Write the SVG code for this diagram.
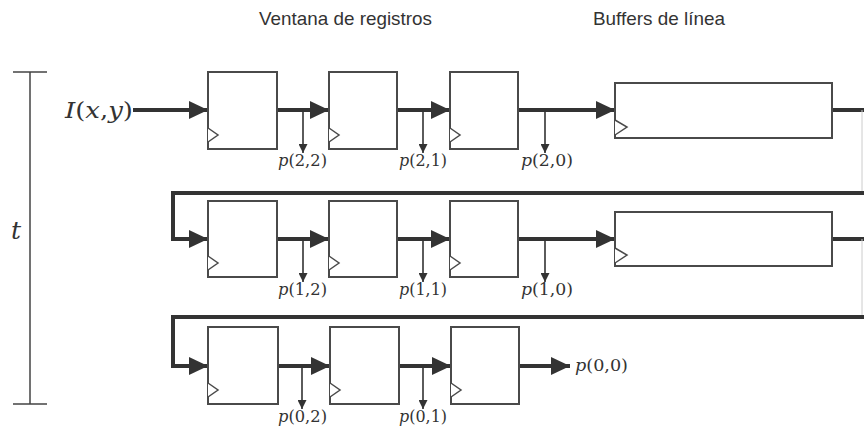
<svg xmlns="http://www.w3.org/2000/svg" width="864" height="430" viewBox="0 0 864 430">
<style>
.reg{fill:#fff;stroke:#4a4a4a;stroke-width:2}
.clk{fill:#fff;stroke:#4a4a4a;stroke-width:1.5}
.bus{fill:none;stroke:#333;stroke-width:4}
.tap{fill:none;stroke:#333;stroke-width:1.6}
.thin{fill:none;stroke:#444;stroke-width:1.5}
.faint{fill:none;stroke:#ccc;stroke-width:1}
.title{font-family:"Liberation Sans",Arial,sans-serif;font-size:19px;fill:#333}
.math{font-family:"DejaVu Serif","Liberation Serif",serif;font-size:16px;fill:#333}
.it{font-style:italic}
</style>
<defs>
<marker id="big" markerUnits="userSpaceOnUse" markerWidth="19" markerHeight="18" refX="19" refY="9" orient="auto"><path d="M0,0 L19,9 L0,18 z" fill="#333"/></marker>
<marker id="small" markerUnits="userSpaceOnUse" markerWidth="9" markerHeight="9" refX="9" refY="4.5" orient="auto"><path d="M0,0 L9,4.5 L0,9 z" fill="#333"/></marker>
</defs>
<rect width="864" height="430" fill="#fff"/>

<text class="title" x="259" y="25" textLength="173" lengthAdjust="spacingAndGlyphs">Ventana de registros</text>
<text class="title" x="593" y="25" textLength="132" lengthAdjust="spacingAndGlyphs">Buffers de línea</text>

<g id="time-axis">
<path class="thin" d="M13,72 H47 M30,72 V404 M13,404 H47"/>
<text class="math it" x="11" y="239" style="font-size:25px">t</text>
</g>

<g id="input-label"><text class="math" x="65" y="118" style="font-size:22px" textLength="68" lengthAdjust="spacingAndGlyphs"><tspan class="it">I</tspan>(<tspan class="it">x</tspan>,<tspan class="it">y</tspan>)</text></g>

<g id="connectors">
<path class="bus" marker-end="url(#big)" d="M133,110 H208"/>
<path class="bus" marker-end="url(#big)" d="M277,110 H329"/>
<path class="bus" marker-end="url(#big)" d="M397,110 H450"/>
<path class="bus" marker-end="url(#big)" d="M518,110 H615"/>
<path class="bus" d="M832,110 H864"/>
<path class="tap" marker-end="url(#small)" d="M303,110 V153"/>
<path class="tap" marker-end="url(#small)" d="M423,110 V153"/>
<path class="tap" marker-end="url(#small)" d="M545,110 V153"/>
<path class="faint" d="M862,110 V193"/>
<path class="bus" marker-end="url(#big)" d="M864,193 H173 V239 H208"/>
<path class="bus" marker-end="url(#big)" d="M277,239 H329"/>
<path class="bus" marker-end="url(#big)" d="M397,239 H450"/>
<path class="bus" marker-end="url(#big)" d="M518,239 H615"/>
<path class="bus" d="M832,239 H864"/>
<path class="tap" marker-end="url(#small)" d="M303,239 V282"/>
<path class="tap" marker-end="url(#small)" d="M423,239 V282"/>
<path class="tap" marker-end="url(#small)" d="M545,239 V282"/>
<path class="faint" d="M862,239 V317"/>
<path class="bus" marker-end="url(#big)" d="M864,317 H173 V366 H208"/>
<path class="bus" marker-end="url(#big)" d="M278,366 H330"/>
<path class="bus" marker-end="url(#big)" d="M399,366 H451"/>
<path class="bus" marker-end="url(#big)" d="M519,366 H570"/>
<path class="tap" marker-end="url(#small)" d="M302,366 V409"/>
<path class="tap" marker-end="url(#small)" d="M423,366 V409"/>
</g>

<g id="r22"><rect class="reg" x="208" y="72" width="69" height="77"/><path class="clk" d="M208,128 L218,135 L208,142"/></g>
<g id="r21"><rect class="reg" x="329" y="72" width="68" height="77"/><path class="clk" d="M329,128 L339,135 L329,142"/></g>
<g id="r20"><rect class="reg" x="450" y="72" width="68" height="77"/><path class="clk" d="M450,128 L460,135 L450,142"/></g>
<g id="buf2"><rect class="reg" x="615" y="83" width="217" height="55"/><path class="clk" d="M615,120 L627,127 L615,135"/></g>

<g id="r12"><rect class="reg" x="208" y="201" width="69" height="76"/><path class="clk" d="M208,256 L218,263 L208,270"/></g>
<g id="r11"><rect class="reg" x="329" y="201" width="68" height="76"/><path class="clk" d="M329,256 L339,263 L329,270"/></g>
<g id="r10"><rect class="reg" x="450" y="201" width="68" height="76"/><path class="clk" d="M450,256 L460,263 L450,270"/></g>
<g id="buf1"><rect class="reg" x="615" y="212" width="217" height="54"/><path class="clk" d="M615,248 L627,255 L615,263"/></g>

<g id="r02"><rect class="reg" x="208" y="327" width="70" height="77"/><path class="clk" d="M208,383 L218,390 L208,397"/></g>
<g id="r01"><rect class="reg" x="330" y="327" width="69" height="77"/><path class="clk" d="M330,383 L340,390 L330,397"/></g>
<g id="r00"><rect class="reg" x="451" y="327" width="68" height="77"/><path class="clk" d="M451,383 L461,390 L451,397"/></g>

<g id="labels">
<text class="math" x="278" y="166" textLength="49" lengthAdjust="spacingAndGlyphs"><tspan class="it">p</tspan>(2,2)</text>
<text class="math" x="399" y="166" textLength="48" lengthAdjust="spacingAndGlyphs"><tspan class="it">p</tspan>(2,1)</text>
<text class="math" x="521" y="166" textLength="52" lengthAdjust="spacingAndGlyphs"><tspan class="it">p</tspan>(2,0)</text>
<text class="math" x="278" y="295" textLength="49" lengthAdjust="spacingAndGlyphs"><tspan class="it">p</tspan>(1,2)</text>
<text class="math" x="399" y="295" textLength="48" lengthAdjust="spacingAndGlyphs"><tspan class="it">p</tspan>(1,1)</text>
<text class="math" x="521" y="295" textLength="52" lengthAdjust="spacingAndGlyphs"><tspan class="it">p</tspan>(1,0)</text>
<text class="math" x="278" y="422" textLength="49" lengthAdjust="spacingAndGlyphs"><tspan class="it">p</tspan>(0,2)</text>
<text class="math" x="399" y="422" textLength="48" lengthAdjust="spacingAndGlyphs"><tspan class="it">p</tspan>(0,1)</text>
<text class="math" x="575" y="371" textLength="53" lengthAdjust="spacingAndGlyphs"><tspan class="it">p</tspan>(0,0)</text>
</g>
</svg>
